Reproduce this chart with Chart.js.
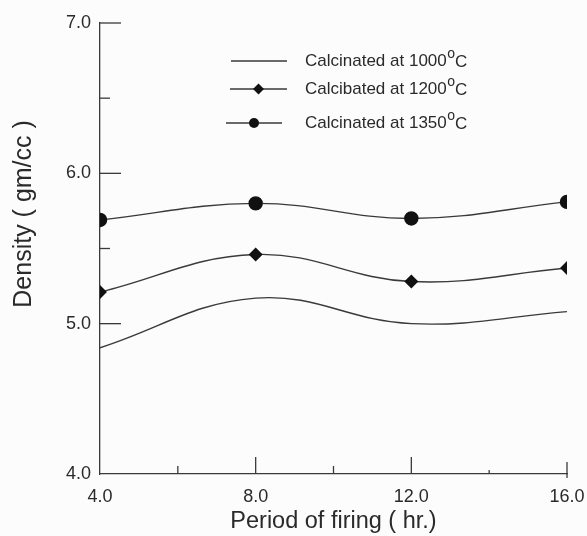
<!DOCTYPE html>
<html><head><meta charset="utf-8">
<script src="https://cdn.jsdelivr.net/npm/chart.js@4/dist/chart.umd.min.js"></script>
<style>html,body{margin:0;padding:0;background:#fcfcfc}#wrap{width:587px;height:536px}</style>
</head><body><div id="wrap"><canvas id="c" width="587" height="536"></canvas></div>
<script>
// ---- data ----
const periods = [4, 8, 12, 16];
const seriesLabels = ['Calcinated at 1000°C', 'Calcibated at 1200°C', 'Calcinated at 1350°C'];
const density1000 = [4.84, 5.17, 5.00, 5.08];
const density1200 = [5.21, 5.46, 5.28, 5.37];
const density1350 = [5.69, 5.80, 5.70, 5.81];
const yMajorTicks = [5, 6, 7];
const yMinorTicks = [5.5, 6.5];
const xMajorTicks = [8, 12, 16];
const xMinorTicks = [6, 10, 14];
const xTitle = 'Period of firing ( hr.)';
const yTitle = 'Density ( gm/cc )';

const FONT = '"Liberation Sans", Arial, Helvetica, sans-serif';
const INK = '#2a2a2a';
const LINE = '#3a3a3a';

function pts(vals) { return periods.map((p, i) => ({x: p, y: vals[i]})); }

const inwardTicks = {
  id: 'inwardTicks',
  afterDraw(chart) {
    const ctx = chart.ctx, xs = chart.scales.x, ys = chart.scales.y;
    ctx.save();
    ctx.strokeStyle = LINE; ctx.lineWidth = 1.3;
    const x0 = xs.getPixelForValue(4), y0 = ys.getPixelForValue(4);
    const seg = (a, b, c, d) => { ctx.beginPath(); ctx.moveTo(a, b); ctx.lineTo(c, d); ctx.stroke(); };
    yMajorTicks.forEach(v => { const y = ys.getPixelForValue(v); seg(x0, y, x0 + 21, y); });
    yMinorTicks.forEach(v => { const y = ys.getPixelForValue(v); seg(x0, y, x0 + 10, y); });
    xMajorTicks.forEach(v => { const x = xs.getPixelForValue(v); seg(x, y0 + (v === 16 ? 4 : 0), x, y0 - (v === 16 ? 12 : 17)); });
    xMinorTicks.forEach(v => { const x = xs.getPixelForValue(v); seg(x, y0, x, y0 - (v === 14 ? 4 : 8)); });
    ctx.restore();
  }
};

const yTitlePlugin = {
  id: 'yTitle',
  afterDraw(chart) {
    const ctx = chart.ctx, ys = chart.scales.y;
    ctx.save();
    ctx.translate(24, ys.getPixelForValue(5.73));
    ctx.rotate(-Math.PI / 2);
    ctx.font = '25px ' + FONT;
    ctx.fillStyle = INK; ctx.textAlign = 'center'; ctx.textBaseline = 'middle';
    ctx.fillText(yTitle, 0, 0);
    ctx.restore();
  }
};

const legendPlugin = {
  id: 'customLegend',
  afterDraw(chart) {
    const ctx = chart.ctx;
    const rows = [61, 89, 123];
    const lineX = [[231, 287], [230, 287], [226, 282]];
    ctx.save();
    chart.data.datasets.forEach((ds, i) => {
      const y = rows[i];
      ctx.strokeStyle = LINE; ctx.lineWidth = 1.3;
      ctx.beginPath(); ctx.moveTo(lineX[i][0], y); ctx.lineTo(lineX[i][1], y); ctx.stroke();
      const mx = (lineX[i][0] + lineX[i][1]) / 2;
      ctx.fillStyle = '#111';
      if (ds.pointStyle === 'circle') {
        ctx.beginPath(); ctx.arc(mx, y, 5, 0, Math.PI * 2); ctx.fill();
      } else if (ds.pointStyle === 'rectRot') {
        ctx.beginPath(); ctx.moveTo(mx, y - 5.5); ctx.lineTo(mx + 5.5, y); ctx.lineTo(mx, y + 5.5); ctx.lineTo(mx - 5.5, y); ctx.closePath(); ctx.fill();
      }
      const parts = ds.label.split('°');
      let tx = 305;
      ctx.fillStyle = INK; ctx.textBaseline = 'middle'; ctx.textAlign = 'left';
      ctx.font = '17px ' + FONT;
      ctx.fillText(parts[0], tx, y);
      tx += ctx.measureText(parts[0]).width + 0.5;
      if (parts.length > 1) {
        ctx.font = '14px ' + FONT;
        ctx.fillText('o', tx, y - 7);
        tx += ctx.measureText('o').width;
        ctx.font = '17px ' + FONT;
        ctx.fillText(parts[1], tx, y + 1);
      }
    });
    ctx.restore();
  }
};

new Chart(document.getElementById('c'), {
  type: 'line',
  data: {
    datasets: [
      { label: seriesLabels[0], data: pts(density1000), pointRadius: 0, pointStyle: false,
        borderColor: LINE, borderWidth: 1.4, tension: 0.4, fill: false },
      { label: seriesLabels[1], data: pts(density1200), pointStyle: 'rectRot', pointRadius: 6,
        pointBackgroundColor: '#111', pointBorderColor: '#111', borderColor: LINE, borderWidth: 1.4, tension: 0.4, fill: false },
      { label: seriesLabels[2], data: pts(density1350), pointStyle: 'circle', pointRadius: 6.5,
        pointBackgroundColor: '#111', pointBorderColor: '#111', borderColor: LINE, borderWidth: 1.4, tension: 0.4, fill: false }
    ]
  },
  options: {
    responsive: false, animation: false,
    layout: { padding: { top: 23, right: 20, left: 0, bottom: 0 } },
    plugins: { legend: { display: false }, tooltip: { enabled: false } },
    scales: {
      x: {
        type: 'linear', min: 4, max: 16,
        afterFit(s) { s.height = 62; s.paddingLeft = 0; s.paddingRight = 0; },
        grid: { display: false, drawTicks: false },
        border: { display: true, color: LINE, width: 1.3 },
        ticks: { stepSize: 4, padding: 12, color: INK, font: { family: FONT, size: 18 },
                 callback: v => Number(v).toFixed(1) },
        title: { display: true, text: xTitle, color: INK, font: { family: FONT, size: 23.5 }, padding: { top: 2, bottom: 0 } }
      },
      y: {
        type: 'linear', min: 4, max: 7,
        afterFit(s) { s.width = 100; s.paddingTop = 0; s.paddingBottom = 0; },
        grid: { display: false, drawTicks: false },
        border: { display: true, color: LINE, width: 1.3 },
        ticks: { stepSize: 1, padding: 9, color: INK, font: { family: FONT, size: 18 },
                 callback: v => Number(v).toFixed(1) }
      }
    }
  },
  plugins: [inwardTicks, yTitlePlugin, legendPlugin]
});
</script>
</body></html>
